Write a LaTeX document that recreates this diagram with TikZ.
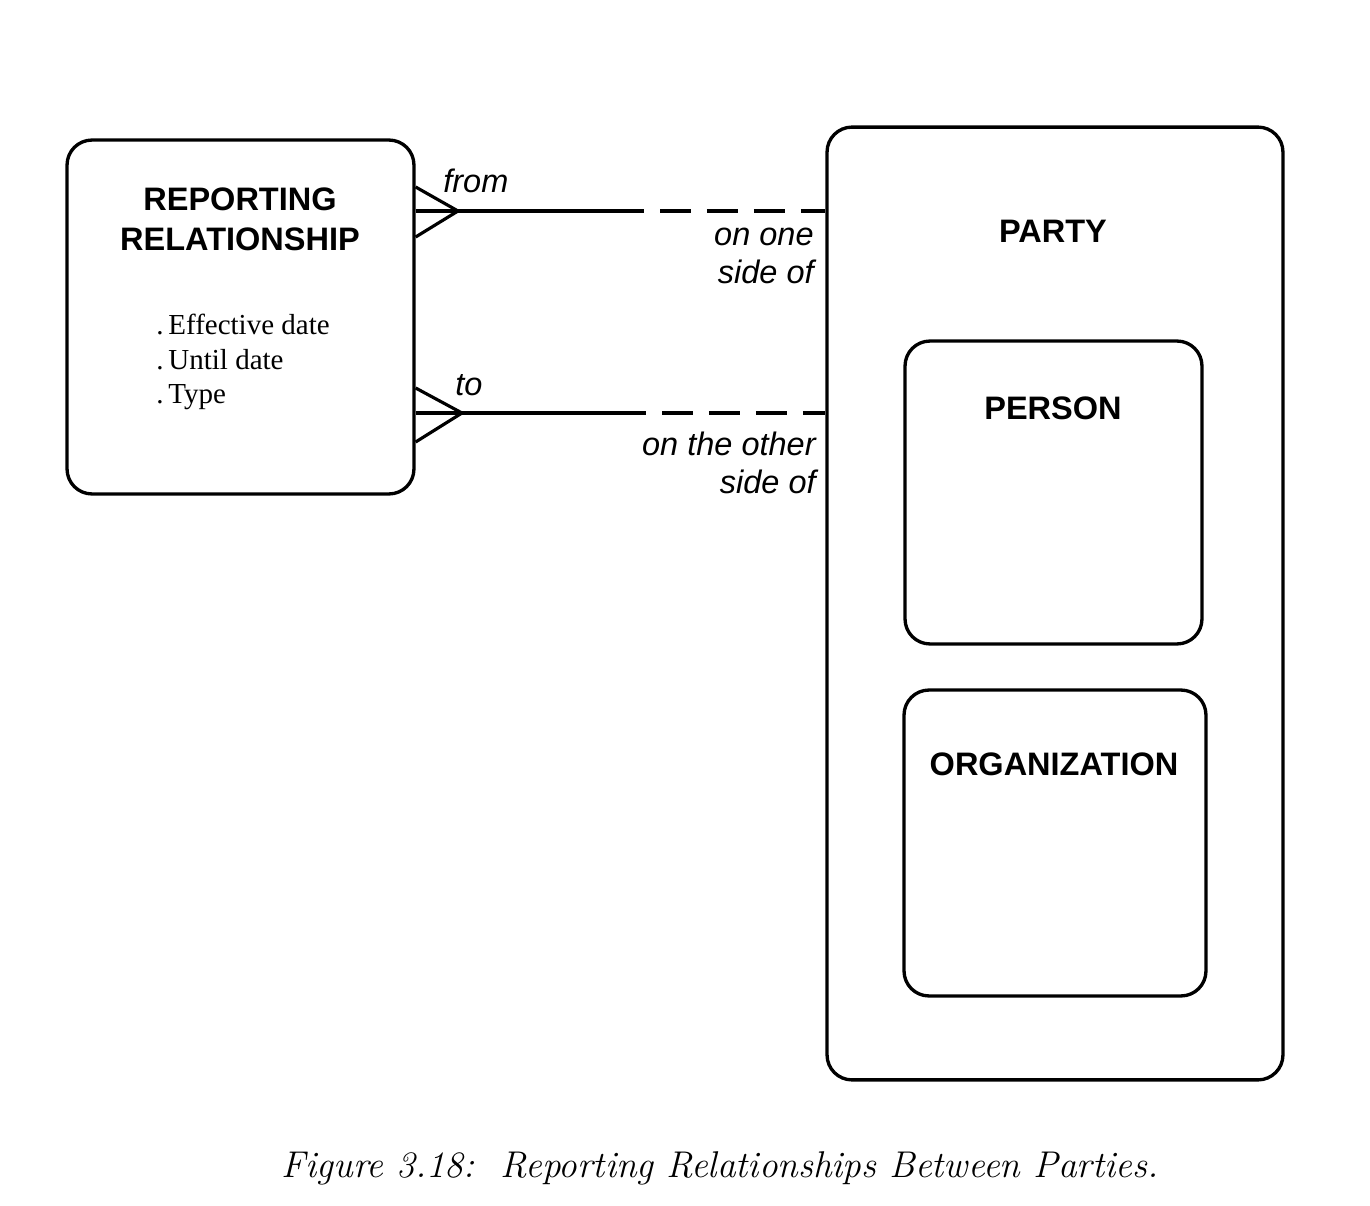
\documentclass[tikz,border=0pt]{standalone}
\usepackage{fontspec}
\newfontfamily\hsans{Liberation Sans}
\newfontfamily\tserif{Liberation Serif}
\usetikzlibrary{calc}
\tikzset{
  ent/.style={draw, line width=1.9pt, rounded corners=0.5cm, inner sep=0pt},
  ttl/.style={inner sep=0pt, align=center, font=\hsans\bfseries\fontsize{18.5}{22.8}\selectfont},
  rel/.style={inner sep=0pt, font=\hsans\itshape\fontsize{18.5}{22}\selectfont},
  attr/.style={inner sep=0pt, align=left, font=\tserif\fontsize{16.5}{19.6}\selectfont},
  conn/.style={line width=1.8pt},
  dashconn/.style={line width=1.8pt, dash pattern=on 0.62cm off 0.32cm},
}
\begin{document}
\begin{tikzpicture}[x=0.02cm,y=-0.02cm]
\path[use as bounding box, fill=white] (0,0) rectangle (1370,1206);
% boxes
\node[ent, minimum width=6.94cm, minimum height=7.08cm] (rr) at (240.5,317) {};
\node[ent, minimum width=9.12cm, minimum height=19.06cm] (party) at (1055,603.5) {};
\node[ent, minimum width=5.94cm, minimum height=6.06cm] (person) at (1053.5,492.5) {};
\node[ent, minimum width=6.04cm, minimum height=6.12cm] (org) at (1055,843) {};
% titles
\node[ttl] (rrt) at (240,219) {REPORTING\\RELATIONSHIP};
\node[ttl] (pt) at (1053,231) {PARTY};
\node[ttl] (pet) at (1053,408) {PERSON};
\node[ttl] (ot) at (1054,764) {ORGANIZATION};
\node[attr, anchor=west] (att) at (156,362) {.\,Effective date\\.\,Until date\\.\,Type};
% connector from
\coordinate (ftip) at (458,211);
\coordinate (fsol) at (644,211);
\coordinate (fdash) at (660,211);
\draw[conn] (ftip -| rr.east) -- (fsol);
\draw[conn] ($(ftip -| rr.east)+(0,-24)$) -- (ftip) -- ($(ftip -| rr.east)+(0,26)$);
\draw[dashconn] (fdash) -- (fdash -| party.west);
% connector to
\coordinate (ttip) at (462,413);
\coordinate (tsol) at (646,413);
\coordinate (tdash) at (662,413);
\draw[conn] (ttip -| rr.east) -- (tsol);
\draw[conn] ($(ttip -| rr.east)+(0,-25)$) -- (ttip) -- ($(ttip -| rr.east)+(0,29)$);
\draw[dashconn] (tdash) -- (tdash -| party.west);
% labels
\node[rel, anchor=west] (lfrom) at (443,181) {from};
\node[rel, anchor=west] (lto) at (455,385) {to};
\node[rel, anchor=east, align=right] (lone) at (814,256) {on one\\side of};
\node[rel, anchor=east, align=right] (lother) at (816,463) {on the other\\side of};
% caption
\node[inner sep=0pt, font=\itshape\fontsize{21.2}{26}\selectfont] (cap) at (720,1168) {Figure 3.18:\ \ Reporting Relationships Between Parties.};
\end{tikzpicture}
\end{document}
